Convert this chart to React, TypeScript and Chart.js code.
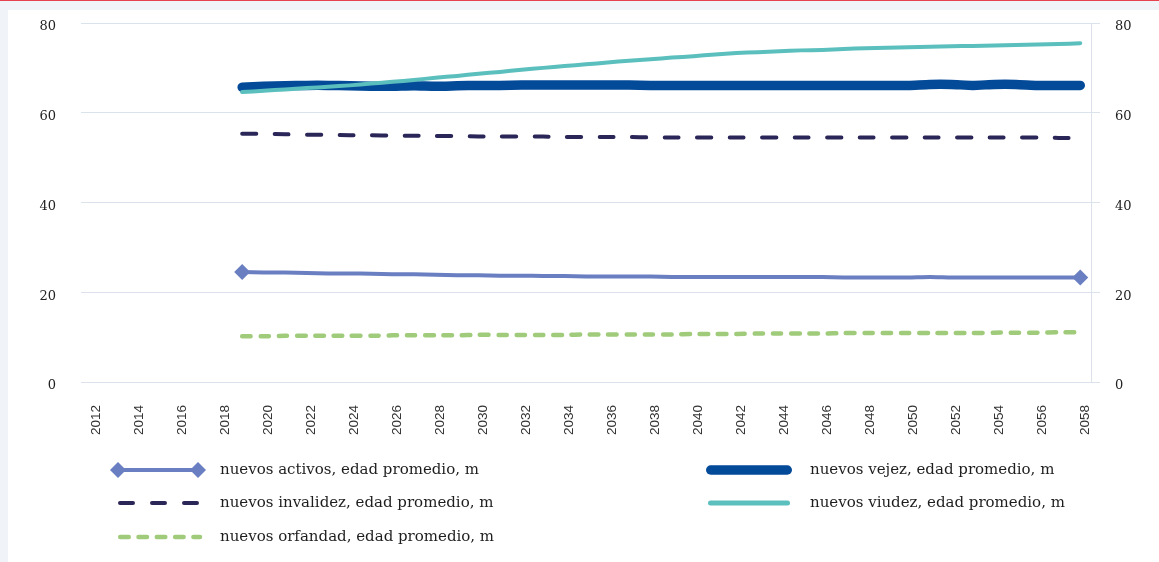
import React, { useEffect, useRef } from "react";
import { Chart, registerables } from "chart.js";

Chart.register(...registerables);

const years = [
  "2012", "2013", "2014", "2015", "2016", "2017", "2018", "2019", "2020", "2021",
  "2022", "2023", "2024", "2025", "2026", "2027", "2028", "2029", "2030", "2031",
  "2032", "2033", "2034", "2035", "2036", "2037", "2038", "2039", "2040", "2041",
  "2042", "2043", "2044", "2045", "2046", "2047", "2048", "2049", "2050", "2051",
  "2052", "2053", "2054", "2055", "2056", "2057", "2058",
];

const before2019 = [null, null, null, null, null, null, null];

const activos = [
  24.5, 24.4, 24.4, 24.3, 24.2, 24.2, 24.1, 24.0, 24.0, 23.9,
  23.8, 23.8, 23.7, 23.7, 23.6, 23.6, 23.5, 23.5, 23.5, 23.5,
  23.4, 23.4, 23.4, 23.4, 23.4, 23.4, 23.4, 23.4, 23.3, 23.3,
  23.3, 23.3, 23.4, 23.3, 23.3, 23.3, 23.3, 23.3, 23.3, 23.3,
];

const vejez = [
  65.7, 65.9, 66.0, 66.1, 66.1, 66.0, 65.9, 65.9, 66.0, 65.9,
  66.0, 66.1, 66.1, 66.2, 66.2, 66.2, 66.2, 66.2, 66.2, 66.1,
  66.1, 66.1, 66.1, 66.1, 66.1, 66.1, 66.1, 66.1, 66.1, 66.1,
  66.1, 66.1, 66.3, 66.3, 66.1, 66.3, 66.3, 66.1, 66.1, 66.1,
];

const invalidez = [
  55.3, 55.3, 55.2, 55.1, 55.1, 55.0, 55.0, 54.9, 54.9, 54.8,
  54.8, 54.7, 54.7, 54.7, 54.7, 54.6, 54.6, 54.6, 54.6, 54.5,
  54.5, 54.5, 54.5, 54.5, 54.5, 54.5, 54.5, 54.5, 54.5, 54.5,
  54.5, 54.5, 54.5, 54.5, 54.5, 54.5, 54.5, 54.5, 54.4, 54.4,
];

const viudez = [
  64.6, 64.9, 65.2, 65.5, 65.8, 66.1, 66.5, 66.9, 67.3, 67.8,
  68.2, 68.7, 69.1, 69.6, 70.0, 70.4, 70.8, 71.2, 71.6, 71.9,
  72.3, 72.6, 73.0, 73.3, 73.5, 73.7, 73.9, 74.0, 74.2, 74.4,
  74.5, 74.6, 74.7, 74.8, 74.9, 75.0, 75.1, 75.2, 75.3, 75.5,
];

const orfandad = [
  10.2, 10.2, 10.3, 10.3, 10.3, 10.3, 10.3, 10.4, 10.4, 10.4,
  10.4, 10.5, 10.5, 10.5, 10.5, 10.5, 10.6, 10.6, 10.6, 10.6,
  10.6, 10.7, 10.7, 10.7, 10.8, 10.8, 10.8, 10.8, 10.9, 10.9,
  10.9, 10.9, 10.9, 10.9, 10.9, 11.0, 11.0, 11.0, 11.1, 11.1,
];

const yTicks = [0, 20, 40, 60, 80];

const seriesNames = [
  "nuevos activos, edad promedio, m",
  "nuevos vejez, edad promedio, m",
  "nuevos invalidez, edad promedio, m",
  "nuevos viudez, edad promedio, m",
  "nuevos orfandad, edad promedio, m",
];

const COLORS = {
  activos: "#6a7fc1",
  vejez: "#034a99",
  invalidez: "#2b2658",
  viudez: "#5bbfbd",
  orfandad: "#9fcb7a",
};

const GRID = "#dbe2eb";
const SERIF = '"DejaVu Serif", serif';
const SANS = '"Liberation Sans", Arial, sans-serif';

function drawDiamond(ctx: CanvasRenderingContext2D, x: number, y: number, r: number, color: string) {
  ctx.beginPath();
  ctx.moveTo(x, y - r);
  ctx.lineTo(x + r, y);
  ctx.lineTo(x, y + r);
  ctx.lineTo(x - r, y);
  ctx.closePath();
  ctx.fillStyle = color;
  ctx.fill();
}

const legendPlugin = {
  id: "customLegend",
  afterDraw(chart: any) {
    const ctx: CanvasRenderingContext2D = chart.ctx;
    ctx.save();
    const rows = [460, 493, 527];
    const c1 = 110;
    const c1End = 190;
    const c2 = 698;
    const c2End = 784;
    const t1 = 212;
    const t2 = 802;
    ctx.lineCap = "round";

    // activos
    ctx.setLineDash([]);
    ctx.strokeStyle = COLORS.activos;
    ctx.lineWidth = 4;
    ctx.beginPath();
    ctx.moveTo(c1, rows[0]);
    ctx.lineTo(c1End, rows[0]);
    ctx.stroke();
    drawDiamond(ctx, c1, rows[0], 8, COLORS.activos);
    drawDiamond(ctx, c1End, rows[0], 8, COLORS.activos);

    // invalidez
    ctx.strokeStyle = COLORS.invalidez;
    ctx.lineWidth = 4;
    ctx.setLineDash([13, 19]);
    ctx.beginPath();
    ctx.moveTo(c1 + 2, rows[1]);
    ctx.lineTo(c1End + 2, rows[1]);
    ctx.stroke();

    // orfandad
    ctx.strokeStyle = COLORS.orfandad;
    ctx.lineWidth = 4.5;
    ctx.setLineDash([8.5, 9.8]);
    ctx.beginPath();
    ctx.moveTo(c1 + 2.2, rows[2]);
    ctx.lineTo(c1End + 2, rows[2]);
    ctx.stroke();

    // vejez
    ctx.setLineDash([]);
    ctx.strokeStyle = COLORS.vejez;
    ctx.lineWidth = 9.5;
    ctx.beginPath();
    ctx.moveTo(c2 + 4.75, rows[0]);
    ctx.lineTo(c2End - 4.75, rows[0]);
    ctx.stroke();

    // viudez
    ctx.strokeStyle = COLORS.viudez;
    ctx.lineWidth = 5;
    ctx.beginPath();
    ctx.moveTo(c2 + 4.5, rows[1]);
    ctx.lineTo(c2End - 4.5, rows[1]);
    ctx.stroke();

    ctx.fillStyle = "#1e1e1e";
    ctx.font = `15px ${SERIF}`;
    ctx.textBaseline = "middle";
    ctx.textAlign = "left";
    ctx.fillText(seriesNames[0], t1, rows[0]);
    ctx.fillText(seriesNames[2], t1, rows[1]);
    ctx.fillText(seriesNames[4], t1, rows[2]);
    ctx.fillText(seriesNames[1], t2, rows[0]);
    ctx.fillText(seriesNames[3], t2, rows[1]);
    ctx.restore();
  },
};

export default function App() {
  const canvasRef = useRef<HTMLCanvasElement | null>(null);

  useEffect(() => {
    const canvas = canvasRef.current;
    if (!canvas) return;
    const nActivos = [...before2019, ...activos];
    const firstIdx = before2019.length;
    const lastIdx = nActivos.length - 1;
    const activosRadius = nActivos.map((_, i) => (i === firstIdx || i === lastIdx ? 8 : 0));

    const fixVerticalPadding = (scale: any, width: number) => {
      scale.width = width;
      scale.paddingTop = 7;
      scale.paddingBottom = 7;
    };

    const chart = new Chart(canvas, {
      type: "line",
      data: {
        labels: years,
        datasets: [
          {
            label: seriesNames[0],
            data: nActivos,
            borderColor: COLORS.activos,
            backgroundColor: COLORS.activos,
            borderWidth: 4,
            pointStyle: "rectRot",
            pointRadius: activosRadius,
            pointBorderWidth: 0,
            tension: 0.2,
            order: 5,
          },
          {
            label: seriesNames[1],
            data: [...before2019, ...vejez],
            borderColor: COLORS.vejez,
            borderWidth: 9.5,
            pointRadius: 0,
            tension: 0.2,
            order: 4,
          },
          {
            label: seriesNames[2],
            data: [...before2019, ...invalidez],
            borderColor: COLORS.invalidez,
            borderWidth: 4,
            borderDash: [14, 18.5],
            pointRadius: 0,
            tension: 0.2,
            order: 3,
          },
          {
            label: seriesNames[3],
            data: [...before2019, ...viudez],
            borderColor: COLORS.viudez,
            borderWidth: 4,
            pointRadius: 0,
            tension: 0.2,
            order: 2,
          },
          {
            label: seriesNames[4],
            data: [...before2019, ...orfandad],
            borderColor: COLORS.orfandad,
            borderWidth: 4.5,
            borderDash: [8.5, 9.8],
            pointRadius: 0,
            tension: 0.2,
            order: 1,
          },
        ] as any,
      },
      options: {
        responsive: false,
        animation: false,
        events: [],
        elements: {
          line: { borderCapStyle: "round", borderJoinStyle: "round" },
        },
        layout: { padding: { top: 13, bottom: 120, left: 0, right: 0 } },
        plugins: {
          legend: { display: false },
          tooltip: { enabled: false },
          title: { display: false },
        },
        scales: {
          x: {
            type: "category",
            offset: true,
            grid: { display: false, drawTicks: false },
            border: { display: true, color: GRID, width: 1 },
            ticks: {
              autoSkip: false,
              maxRotation: 90,
              minRotation: 90,
              padding: 23,
              labelOffset: 5,
              color: "#333333",
              font: { family: SANS, size: 13.5 },
              callback: (_v: any, i: number) => (parseInt(years[i], 10) % 2 === 0 ? years[i] : ""),
            },
            afterFit: (scale: any) => {
              scale.height = 60;
            },
          },
          y: {
            position: "left",
            min: 0,
            max: 80,
            afterBuildTicks: (scale: any) => {
              scale.ticks = yTicks.map((v) => ({ value: v }));
            },
            grid: { color: GRID, lineWidth: 1, drawTicks: false },
            border: { display: false },
            ticks: {
              padding: 25,
              labelOffset: 4,
              color: "#222222",
              font: { family: SERIF, size: 13 },
            },
            afterFit: (scale: any) => fixVerticalPadding(scale, 73),
          },
          y2: {
            position: "right",
            min: 0,
            max: 80,
            afterBuildTicks: (scale: any) => {
              scale.ticks = yTicks.map((v) => ({ value: v }));
            },
            grid: { color: GRID, lineWidth: 1, drawOnChartArea: false, drawTicks: true, tickLength: 9 },
            border: { display: true, color: GRID, width: 1 },
            ticks: {
              padding: 15,
              labelOffset: 4,
              color: "#222222",
              font: { family: SERIF, size: 13 },
            },
            afterFit: (scale: any) => fixVerticalPadding(scale, 68),
          },
        },
      } as any,
      plugins: [legendPlugin],
    });
    return () => chart.destroy();
  }, []);

  return (
    <div
      style={{
        position: "fixed",
        left: 0,
        top: 0,
        right: 0,
        bottom: 0,
        background: "#f0f3f7",
        overflow: "hidden",
      }}
    >
      <div style={{ position: "absolute", left: 0, top: 0, right: 0, height: 1, background: "#e5414f" }} />
      <div style={{ position: "absolute", left: 8, top: 10, right: 0, bottom: 0, background: "#ffffff" }}>
        <canvas ref={canvasRef} width={1151} height={552} style={{ display: "block" }} />
      </div>
    </div>
  );
}
